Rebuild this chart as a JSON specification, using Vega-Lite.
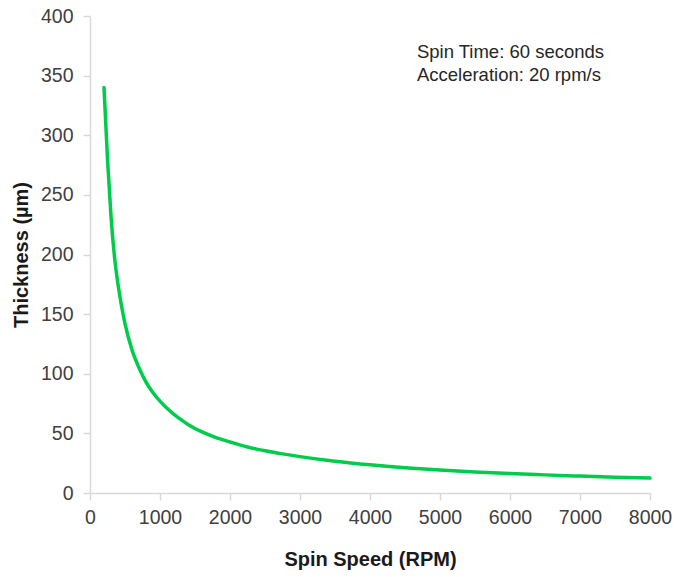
{
  "$schema": "https://vega.github.io/schema/vega-lite/v6.json",
  "autosize": "none",
  "width": 560,
  "height": 477,
  "padding": {"left": 90, "top": 16, "right": 25, "bottom": 84},
  "background": "white",
  "config": {
    "view": {"stroke": null},
    "font": "Liberation Sans",
    "axis": {
      "grid": false,
      "domainColor": "#d9d9d9",
      "domainWidth": 1.5,
      "tickColor": "#d9d9d9",
      "tickWidth": 1.5,
      "tickSize": 7,
      "labelFont": "Liberation Sans",
      "labelFontSize": 19.5,
      "labelColor": "#404040",
      "titleFont": "Liberation Sans",
      "titleFontSize": 20,
      "titleFontWeight": "bold",
      "titleColor": "#1a1a1a"
    }
  },
  "datasets": {
    "curve": [
      {"speed": 200, "thickness": 340},
      {"speed": 250, "thickness": 280},
      {"speed": 300, "thickness": 232},
      {"speed": 350, "thickness": 198},
      {"speed": 400, "thickness": 175},
      {"speed": 450, "thickness": 157},
      {"speed": 500, "thickness": 142},
      {"speed": 600, "thickness": 120},
      {"speed": 700, "thickness": 105},
      {"speed": 800, "thickness": 93},
      {"speed": 900, "thickness": 84},
      {"speed": 1000, "thickness": 77},
      {"speed": 1100, "thickness": 71},
      {"speed": 1200, "thickness": 66},
      {"speed": 1300, "thickness": 61.5},
      {"speed": 1400, "thickness": 57.5},
      {"speed": 1600, "thickness": 51.2},
      {"speed": 1800, "thickness": 46.5},
      {"speed": 2000, "thickness": 42.8},
      {"speed": 2250, "thickness": 38.6},
      {"speed": 2500, "thickness": 35.4},
      {"speed": 2750, "thickness": 32.8},
      {"speed": 3000, "thickness": 30.5},
      {"speed": 3500, "thickness": 26.6},
      {"speed": 4000, "thickness": 23.6},
      {"speed": 4500, "thickness": 21.2},
      {"speed": 5000, "thickness": 19.3},
      {"speed": 5500, "thickness": 17.7},
      {"speed": 6000, "thickness": 16.3},
      {"speed": 6500, "thickness": 15.2},
      {"speed": 7000, "thickness": 14.2},
      {"speed": 7500, "thickness": 13.3},
      {"speed": 8000, "thickness": 12.5}
    ],
    "notes": [
      {"speed": 4670, "thickness": 365, "label": "Spin Time: 60 seconds"},
      {"speed": 4670, "thickness": 345.5, "label": "Acceleration: 20 rpm/s"}
    ]
  },
  "layer": [
    {
      "data": {"name": "curve"},
      "mark": {"type": "line", "color": "#00cc4c", "strokeWidth": 3.5, "interpolate": "monotone", "strokeCap": "round"},
      "encoding": {
        "x": {
          "field": "speed",
          "type": "quantitative",
          "scale": {"domain": [0, 8000], "nice": false},
          "axis": {"title": "Spin Speed (RPM)", "values": [0, 1000, 2000, 3000, 4000, 5000, 6000, 7000, 8000], "format": "d", "labelPadding": 8, "titlePadding": 23, "labelFlush": false, "labelOverlap": false}
        },
        "y": {
          "field": "thickness",
          "type": "quantitative",
          "scale": {"domain": [0, 400], "nice": false},
          "axis": {"title": "Thickness (µm)", "values": [0, 50, 100, 150, 200, 250, 300, 350, 400], "labelPadding": 10, "titlePadding": 9, "labelFlush": false, "labelOverlap": false}
        }
      }
    },
    {
      "data": {"name": "notes"},
      "mark": {"type": "text", "align": "left", "baseline": "alphabetic", "fontSize": 18.5, "font": "Liberation Sans", "color": "#262626"},
      "encoding": {
        "x": {"field": "speed", "type": "quantitative"},
        "y": {"field": "thickness", "type": "quantitative"},
        "text": {"field": "label"}
      }
    }
  ]
}
